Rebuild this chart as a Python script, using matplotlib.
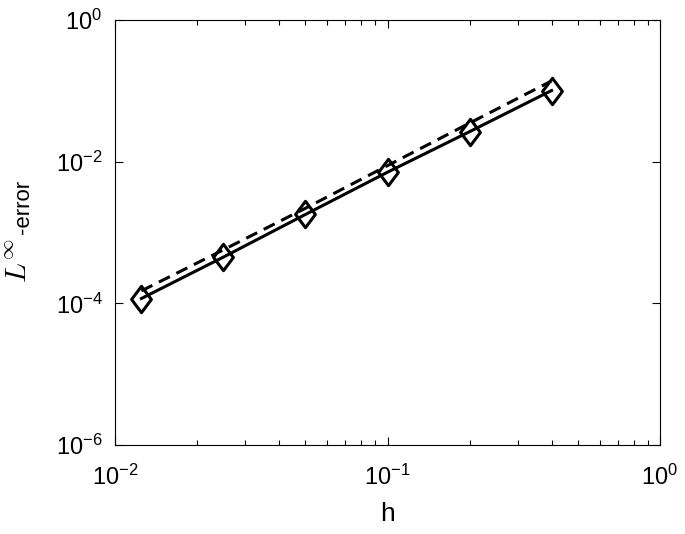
import matplotlib
matplotlib.use('Agg')
import matplotlib.pyplot as plt
from matplotlib.path import Path
from matplotlib.ticker import LogLocator, NullLocator

plt.rcParams['font.family'] = ['Liberation Sans', 'DejaVu Sans']
plt.rcParams['mathtext.fontset'] = 'cm'
plt.rcParams['axes.unicode_minus'] = False

# mesh sizes and errors
h = [0.0125, 0.025, 0.05, 0.1, 0.2, 0.4]
err = [1.17e-4, 4.5e-4, 1.8e-3, 7.1e-3, 2.65e-2, 0.101]
ref = [1.5e-4, 5.7e-4, 2.2e-3, 8.8e-3, 3.5e-2, 0.138]

W, H = 685, 534

# taller-than-wide diamond like the matlab one
diamond = Path([(0, 1), (0.75, 0), (0, -1), (-0.75, 0), (0, 1)],
               [Path.MOVETO, Path.LINETO, Path.LINETO, Path.LINETO, Path.CLOSEPOLY])

fig = plt.figure(figsize=(W / 100, H / 100), dpi=100)
ax = fig.add_axes([115 / W, 89 / H, 545 / W, 425 / H])

ax.loglog(h, ref, color='black', lw=2.2, linestyle=(0, (4, 2.4)))
ax.loglog(h, err, color='black', lw=2.2, marker=diamond, markersize=19,
          markerfacecolor='none', markeredgewidth=2.2)

ax.set_xlim(1e-2, 1e0)
ax.set_ylim(1e-6, 1e0)
ax.xaxis.set_major_locator(LogLocator(base=10, numticks=10))
ax.yaxis.set_major_locator(LogLocator(base=100, numticks=10))
ax.yaxis.set_minor_locator(NullLocator())

ax.tick_params(which='both', direction='in', top=True, right=True,
               labelsize=17, width=0.8)
ax.tick_params(which='major', length=6)
ax.tick_params(which='minor', length=3.5)
ax.tick_params(axis='y', pad=9)
ax.tick_params(axis='x', pad=14)
for s in ax.spines.values():
    s.set_linewidth(0.8)

ax.set_xlabel('h', fontsize=19, labelpad=9)

# y label: bigger math part + sans "-error", stacked like the original
fig.text(19 / W, 1 - 283 / H, r'$L^{\infty}$', fontsize=21, rotation=90,
         ha='center', va='bottom')
fig.text(24 / W, 1 - 234 / H, '-error', fontsize=16, rotation=90,
         ha='center', va='bottom')

fig.savefig('out.png', dpi=100)
